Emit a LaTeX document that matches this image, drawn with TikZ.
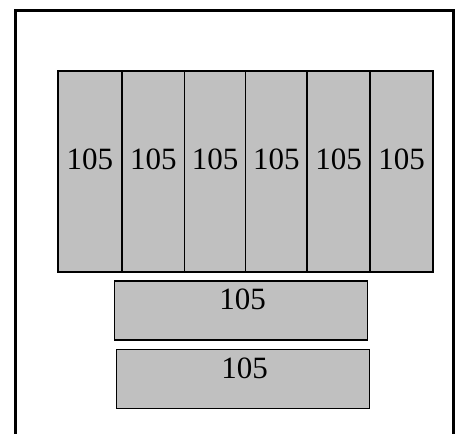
\documentclass[tikz,border=0pt]{standalone}
\usepackage{fontspec}
\setmainfont{Liberation Serif}
\definecolor{boxgray}{HTML}{C0C0C0}
\begin{document}
\begin{tikzpicture}[x=1pt,y=-1pt,
  frame/.style={line width=3pt},
  cell/.style={fill=boxgray,draw=black,line width=1.8pt},
  num/.style={inner sep=0pt,font=\fontsize{31}{33}\selectfont}]
\useasboundingbox (0,0) rectangle (456,434);
\draw[frame] (15.5,436) -- (15.5,10.5) -- (453.5,10.5) -- (453.5,436);
% big block of six columns
\foreach \i/\a/\b in {1/58/122,2/122/184.5,3/184.5/245.5,4/245.5/307,5/307/370,6/370/433}{
  \path[cell] (\a,71) rectangle (\b,272);
  \node[num] (c\i) at ({(\a+\b)/2},159.5) {105};
}
\path[cell] (114.5,281) rectangle (367.5,340);
\node[num] (r1) at (242.5,299) {105};
\path[cell] (116.5,349.5) rectangle (369.5,408.5);
\node[num] (r2) at (244.5,368) {105};
\end{tikzpicture}
\end{document}
